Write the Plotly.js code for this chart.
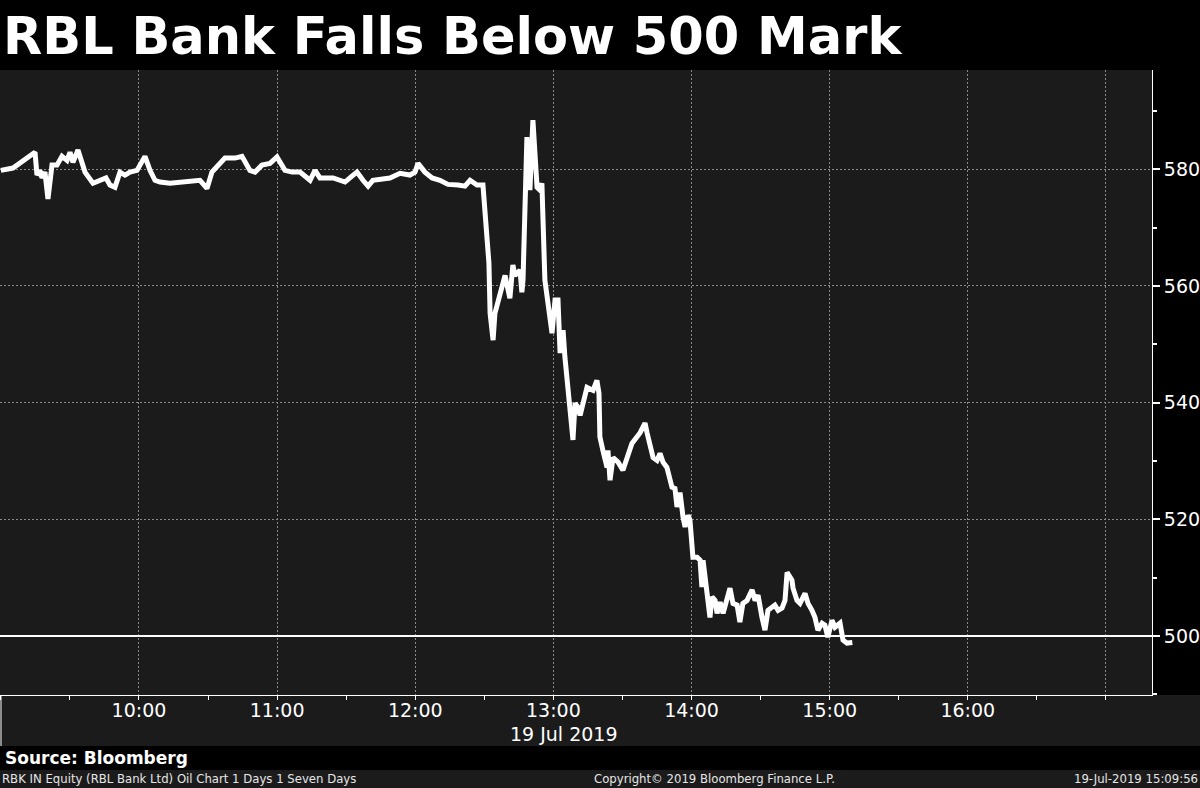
<!DOCTYPE html>
<html>
<head>
<meta charset="utf-8">
<script src="https://cdn.plot.ly/plotly-3.0.1.min.js"></script>
<style>
  html, body { margin: 0; padding: 0; background: #000; }
  #chart { width: 1200px; height: 788px; }
</style>
</head>
<body>
<div id="chart"></div>
<script>
// ---- Data ----
const tradeDate = '2019-07-19';
const times = [
  '09:00:00','09:05:16','09:14:50','09:15:42','09:17:00','09:17:52','09:19:10','09:20:28','09:22:13','09:24:23',
  '09:26:33','09:28:44','09:30:02','09:31:20','09:33:30','09:36:33','09:40:01','09:43:04','09:45:40','09:47:24',
  '09:49:34','09:51:44','09:53:55','09:56:05','09:59:08','10:02:36','10:04:47','10:06:57','10:09:07','10:13:28',
  '10:17:48','10:22:09','10:26:29','10:29:32','10:31:42','10:37:21','10:41:42','10:44:44','10:48:12','10:50:24',
  '10:53:24','10:56:54','10:59:56','11:03:24','11:06:30','11:09:56','11:14:18','11:16:27','11:18:36','11:24:18',
  '11:29:30','11:32:30','11:34:42','11:37:18','11:39:30','11:41:36','11:49:00','11:53:24','11:57:42','11:59:54',
  '12:01:12','12:04:12','12:07:18','12:10:42','12:14:12','12:18:36','12:21:36','12:23:48','12:26:48','12:29:24',
  '12:29:54','12:30:42','12:32:00','12:32:30','12:33:48','12:34:36','12:39:00','12:41:06','12:42:24','12:43:18',
  '12:45:30','12:46:18','12:46:48','12:48:30','12:49:48','12:51:06','12:52:54','12:54:12','12:55:00','12:56:18',
  '12:57:36','12:59:24','13:00:42','13:02:00','13:02:54','13:04:12','13:05:00','13:05:54','13:07:12','13:08:30',
  '13:09:24','13:10:42','13:11:36','13:12:54','13:14:36','13:17:12','13:18:54','13:19:48','13:20:12','13:21:30',
  '13:23:18','13:23:42','13:24:36','13:25:54','13:28:06','13:30:12','13:32:00','13:34:06','13:37:36','13:39:48',
  '13:40:42','13:43:18','13:45:00','13:46:18','13:47:36','13:49:18','13:51:30','13:52:48','13:53:42','13:55:00',
  '13:56:18','13:57:12','13:58:30','13:59:18','14:00:36','14:02:24','14:03:42','14:04:30','14:05:00','14:06:42',
  '14:08:00','14:08:54','14:10:12','14:11:06','14:12:24','14:13:42','14:15:24','14:16:42','14:18:00','14:19:48',
  '14:21:00','14:22:18','14:24:06','14:26:18','14:27:36','14:28:54','14:30:36','14:31:54','14:33:12','14:36:12',
  '14:37:36','14:39:18','14:40:36','14:41:30','14:43:36','14:44:06','14:45:48','14:47:06','14:49:18','14:50:36',
  '14:52:18','14:53:36','14:54:54','14:56:42','14:57:54','14:59:12','15:01:00','15:02:18','15:04:30','15:05:48',
  '15:07:30','15:09:50'
];
const prices = [
  579.8,580.2,582.9,579.0,579.8,578.5,579.5,574.9,580.7,580.7,
  582.2,581.5,582.9,581.2,583.3,579.5,577.6,578.1,578.5,577.3,
  576.9,579.5,579.0,579.5,579.8,582.2,579.8,578.1,577.8,577.6,
  577.8,578.1,578.1,576.7,579.5,581.9,581.9,582.2,579.8,579.5,
  580.7,581.0,582.1,579.8,579.5,579.5,578.1,579.8,578.5,578.5,
  577.8,578.8,579.5,578.1,577.1,578.1,578.5,579.3,579.0,579.5,
  581.0,579.5,578.5,578.1,577.4,577.3,577.1,578.1,577.3,577.3,
  574.2,571.3,563.9,555.3,550.7,555.3,561.8,557.9,563.6,561.8,
  562.7,558.9,561.0,585.5,576.4,588.4,576.9,576.4,577.6,561.0,
  557.0,551.9,557.6,557.6,548.5,552.4,547.8,543.8,540.4,533.6,
  539.9,539.2,537.8,539.9,542.6,542.1,543.8,541.6,534.1,531.8,
  528.9,531.8,526.7,530.6,529.8,528.4,530.6,533.0,534.8,536.5,
  534.8,530.6,530.1,531.3,529.8,528.9,525.5,525.3,522.1,524.6,
  520.4,518.7,520.7,519.9,513.5,513.5,513.0,508.4,513.0,507.3,
  503.2,506.7,506.1,503.9,505.8,503.9,506.7,508.2,505.6,505.3,
  502.4,505.6,506.1,507.9,506.1,507.0,503.2,501.0,504.4,505.3,
  504.4,504.8,506.1,510.9,509.6,508.2,506.1,505.6,507.3,505.6,
  504.4,503.2,501.0,502.2,501.9,499.8,502.7,501.5,502.2,499.3,
  498.8,498.9
];
const hourTicks = ['09:00','10:00','11:00','12:00','13:00','14:00','15:00','16:00','17:00'];
const hourLabels = ['','10:00','11:00','12:00','13:00','14:00','15:00','16:00',''];
const halfHourTicks = ['09:30','10:30','11:30','12:30','13:30','14:30','15:30','16:30'];
const priceTicks = [500, 520, 540, 560, 580];
const priceMinorTicks = [490, 510, 530, 550, 570, 590];
const threshold = 500;
const titleText = 'RBL Bank Falls Below 500 Mark';
const dateLabel = '19 Jul 2019';
const sourceText = 'Source: Bloomberg';
const footerLeft = 'RBK IN Equity (RBL Bank Ltd) Oil Chart 1 Days 1 Seven Days';
const footerCenter = 'Copyright\u00A9 2019 Bloomberg Finance L.P.';
const footerRight = '19-Jul-2019 15:09:56';

// ---- Build ----
const xs = times.map(t => tradeDate + ' ' + t);
const dt = t => tradeDate + ' ' + t;

const W = 1200, H = 788, ML = 0, MR = 48, MT = 70, MB = 93;
const PW = W - ML - MR, PH = H - MT - MB;
const py = p => (H - MB - p) / PH;   // pixel y -> paper y
const px = p => (p - ML) / PW;       // pixel x -> paper x

const FONT = 'DejaVu Sans, Verdana, sans-serif';

const trace = {
  type: 'scatter', mode: 'lines',
  x: xs, y: prices,
  line: { color: '#ffffff', width: 5 },
  hoverinfo: 'skip'
};

const layout = {
  width: W, height: H,
  margin: { l: ML, r: MR, t: MT, b: MB, pad: 0 },
  paper_bgcolor: '#000000',
  plot_bgcolor: '#1b1b1b',
  showlegend: false,
  font: { family: FONT, color: '#ffffff' },
  xaxis: {
    type: 'date',
    range: [dt('08:59:38'), dt('17:20:00')],
    tickmode: 'array',
    tickvals: hourTicks.map(dt),
    ticktext: hourLabels,
    ticks: 'outside', ticklen: 4, tickcolor: '#ffffff', tickwidth: 1,
    ticklabelstandoff: -6,
    showline: true, linecolor: '#ffffff', linewidth: 1,
    showgrid: true, gridcolor: '#8a8a8a', gridwidth: 1, griddash: '2px,2px',
    zeroline: false,
    tickfont: { family: FONT, size: 19, color: '#ffffff' },
    minor: { tickmode: 'array', tickvals: halfHourTicks.map(dt), ticks: 'outside', ticklen: 4, tickcolor: '#ffffff', showgrid: false },
    fixedrange: true
  },
  yaxis: {
    side: 'right',
    range: [489.9, 597],
    tickmode: 'array',
    tickvals: priceTicks,
    ticktext: priceTicks.map(String),
    ticks: 'outside', ticklen: 7, tickwidth: 2, tickcolor: '#ffffff',
    showline: true, linecolor: '#ffffff', linewidth: 1,
    showgrid: true, gridcolor: '#8a8a8a', gridwidth: 1, griddash: '2px,2px',
    zeroline: false,
    tickfont: { family: FONT, size: 19, color: '#ffffff' },
    minor: { tickmode: 'array', tickvals: priceMinorTicks, ticks: 'outside', ticklen: 4, tickcolor: '#ffffff', showgrid: false },
    fixedrange: true
  },
  shapes: [
    { type: 'rect', xref: 'paper', yref: 'paper', x0: px(0), x1: px(1200), y0: py(695), y1: py(746),
      fillcolor: '#1b1b1b', line: { width: 0 }, layer: 'below' },
    { type: 'rect', xref: 'paper', yref: 'paper', x0: px(0), x1: px(1200), y0: py(770), y1: py(790),
      fillcolor: '#1b1b1b', line: { width: 0 }, layer: 'below' },
    { type: 'line', xref: 'paper', yref: 'paper', x0: px(1), x1: px(1), y0: py(695), y1: py(746),
      line: { color: '#ffffff', width: 1 } },
    { type: 'line', xref: 'paper', yref: 'y', x0: 0, x1: 1, y0: threshold, y1: threshold,
      line: { color: '#ffffff', width: 2 }, layer: 'above' }
  ],
  annotations: [
    { text: '<b>' + titleText + '</b>', xref: 'paper', yref: 'paper', x: px(1), y: py(36),
      xanchor: 'left', yanchor: 'middle', showarrow: false,
      font: { family: FONT, size: 51, color: '#ffffff' } },
    { text: dateLabel, xref: 'paper', yref: 'paper', x: px(564), y: py(734),
      xanchor: 'center', yanchor: 'middle', showarrow: false,
      font: { family: FONT, size: 19, color: '#ffffff' } },
    { text: '<b>' + sourceText + '</b>', xref: 'paper', yref: 'paper', x: px(3), y: py(758),
      xanchor: 'left', yanchor: 'middle', showarrow: false,
      font: { family: FONT, size: 17, color: '#ffffff' } },
    { text: footerLeft, xref: 'paper', yref: 'paper', x: px(0), y: py(779),
      xanchor: 'left', yanchor: 'middle', showarrow: false,
      font: { family: FONT, size: 11.7, color: '#e6e6e6' } },
    { text: footerCenter, xref: 'paper', yref: 'paper', x: px(714), y: py(779),
      xanchor: 'center', yanchor: 'middle', showarrow: false,
      font: { family: FONT, size: 11.7, color: '#e6e6e6' } },
    { text: footerRight, xref: 'paper', yref: 'paper', x: px(1200), y: py(779),
      xanchor: 'right', yanchor: 'middle', showarrow: false,
      font: { family: FONT, size: 11.7, color: '#e6e6e6' } }
  ]
};

Plotly.newPlot('chart', [trace], layout, { displayModeBar: false, staticPlot: true });
</script>
</body>
</html>
